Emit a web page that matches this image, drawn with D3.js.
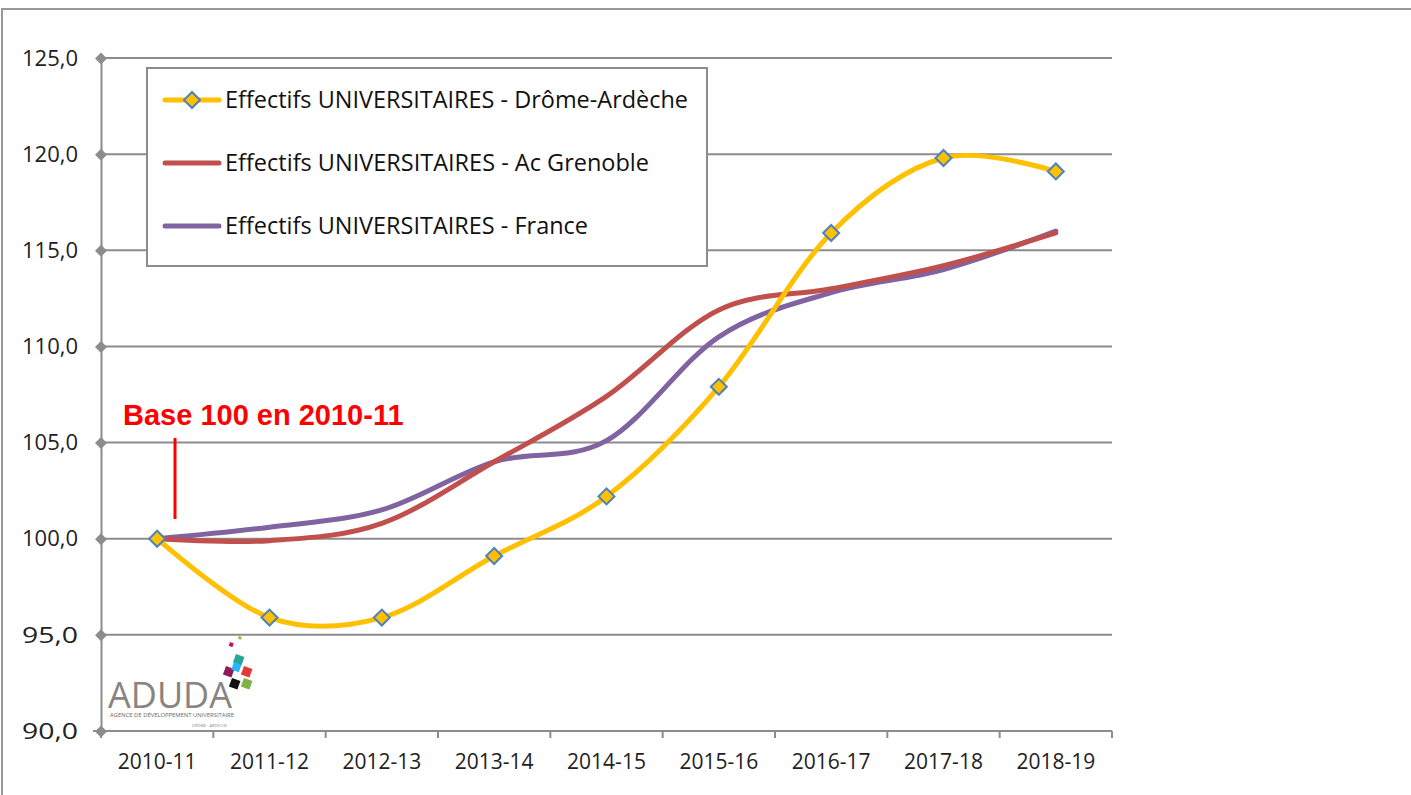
<!DOCTYPE html>
<html>
<head>
<meta charset="utf-8">
<script src="https://cdn.jsdelivr.net/npm/d3@7"></script>
<style>
  body { margin: 0; background: #fff; }
  svg { display: block; }
  text { font-family: "Open Sans", sans-serif; }
</style>
</head>
<body>
<svg width="1411" height="795"></svg>
<script>
var years = ["2010-11", "2011-12", "2012-13", "2013-14", "2014-15", "2015-16", "2016-17", "2017-18", "2018-19"];
var dromeArdeche = [100.0, 95.9, 95.9, 99.1, 102.2, 107.9, 115.9, 119.8, 119.1];
var acGrenoble = [100.0, 99.9, 100.8, 104.0, 107.4, 111.9, 113.0, 114.2, 115.9];
var france = [100.0, 100.6, 101.5, 104.0, 105.1, 110.5, 112.8, 114.0, 116.0];
var yTicks = [90, 95, 100, 105, 110, 115, 120, 125];

var series = [
  { name: "Effectifs UNIVERSITAIRES - Drôme-Ardèche", values: dromeArdeche, color: "#FFC000", marker: true, w: 463 },
  { name: "Effectifs UNIVERSITAIRES - Ac Grenoble", values: acGrenoble, color: "#C0504D", marker: false, w: 424 },
  { name: "Effectifs UNIVERSITAIRES - France", values: france, color: "#8064A2", marker: false, w: 363 }
];

var svg = d3.select("svg"),
    plotLeft = 101, plotRight = 1112, plotTop = 58, plotBottom = 731;

// outer frame
svg.append("rect").attr("x", 2).attr("y", 9).attr("width", 1420).attr("height", 800)
  .attr("fill", "none").attr("stroke", "#999").attr("stroke-width", 2);

var x = d3.scaleBand().domain(years).range([plotLeft, plotRight]);
var y = d3.scaleLinear().domain([90, 125]).range([plotBottom, plotTop]);

var grid = svg.append("g");
grid.selectAll("line").data(yTicks.slice(1)).enter().append("line")
  .attr("x1", plotLeft).attr("x2", plotRight)
  .attr("y1", d => y(d)).attr("y2", d => y(d))
  .attr("stroke", "#8c8c8c").attr("stroke-width", 2);

// y axis
var yAxis = svg.append("g").attr("transform", "translate(" + plotLeft + ",0)")
  .call(d3.axisLeft(y).tickValues(yTicks).tickSize(0).tickPadding(23)
    .tickFormat(d => d3.format(".1f")(d).replace(".", ",")));
yAxis.select(".domain").attr("stroke", "#8c8c8c").attr("stroke-width", 2);
yAxis.selectAll("text").style("font-size", "22px").style("fill", "#222").attr("dy", "0.33em")
  .attr("textLength", 56).attr("lengthAdjust", "spacingAndGlyphs");
yAxis.selectAll(".tick").append("path")
  .attr("d", "M-6,0L0,-6L6,0L0,6Z").attr("fill", "#8c8c8c");

// x axis
var xAxis = svg.append("g").attr("transform", "translate(0," + plotBottom + ")")
  .call(d3.axisBottom(x).tickSize(0).tickPadding(23));
xAxis.select(".domain").remove();
xAxis.selectAll("text").style("font-size", "21px").style("fill", "#222");
svg.append("line").attr("x1", plotLeft - 8).attr("x2", plotRight)
  .attr("y1", plotBottom).attr("y2", plotBottom).attr("stroke", "#8c8c8c").attr("stroke-width", 2);
svg.append("g").selectAll("line").data(years.concat(["end"])).enter().append("line")
  .attr("x1", (d, i) => plotLeft + i * x.bandwidth()).attr("x2", (d, i) => plotLeft + i * x.bandwidth())
  .attr("y1", plotBottom).attr("y2", plotBottom + 7)
  .attr("stroke", "#8c8c8c").attr("stroke-width", 2);

// logo
var logo = svg.append("g").attr("transform", "translate(108,640)");
var sq = [[122, 2, "#c2185b", 4], [131, -4, "#8bc34a", 3], [128, 14, "#26a69a", 9], [118, 26, "#8e1e5a", 9],
          [136, 26, "#e53935", 9], [124, 38, "#111", 9], [136, 38, "#7cb342", 9], [126, 22, "#29b6f6", 8]];
logo.selectAll("rect").data(sq).enter().append("rect")
  .attr("x", d => d[0]).attr("y", d => d[1]).attr("width", d => d[3]).attr("height", d => d[3])
  .attr("fill", d => d[2]).attr("transform", d => "rotate(20," + d[0] + "," + d[1] + ")");
logo.append("text").attr("x", 0).attr("y", 68).text("ADUDA")
  .style("font-size", "36px").style("fill", "#8a8480")
  .attr("textLength", 124).attr("lengthAdjust", "spacingAndGlyphs");
logo.append("text").attr("x", 2).attr("y", 77).text("AGENCE DE DÉVELOPPEMENT UNIVERSITAIRE")
  .style("font-size", "6px").style("fill", "#666")
  .attr("textLength", 124).attr("lengthAdjust", "spacingAndGlyphs");
logo.append("text").attr("x", 84).attr("y", 87).text("DRÔME · ARDÈCHE")
  .style("font-size", "4px").style("fill", "#888");

// series
var line = d3.line()
  .x((d, i) => x(years[i]) + x.bandwidth() / 2)
  .y(d => y(d))
  .curve(d3.curveCardinal.tension(0));

var lines = svg.append("g");
lines.selectAll("path").data(series.slice().reverse()).enter().append("path")
  .attr("d", d => line(d.values))
  .attr("fill", "none").attr("stroke", d => d.color)
  .attr("stroke-width", 5).attr("stroke-linecap", "round");

var diamond = "M-8,0L0,-8L8,0L0,8Z";
svg.append("g").selectAll("path").data(dromeArdeche).enter().append("path")
  .attr("d", diamond)
  .attr("transform", (d, i) => "translate(" + (x(years[i]) + x.bandwidth() / 2) + "," + y(d) + ")")
  .attr("fill", "#FFC000").attr("stroke", "#4F81BD").attr("stroke-width", 2);

// annotation
svg.append("text").attr("x", 123).attr("y", 425).text("Base 100 en 2010-11")
  .style("font-family", "'Liberation Sans', Arial, sans-serif")
  .style("font-size", "29px").style("font-weight", "bold").style("fill", "#ff0000");
svg.append("line").attr("x1", 175).attr("x2", 175).attr("y1", 438).attr("y2", 519)
  .attr("stroke", "#ff0000").attr("stroke-width", 3);

// legend
var legend = svg.append("g");
legend.append("rect").attr("x", 147).attr("y", 68).attr("width", 560).attr("height", 198)
  .attr("fill", "#fff").attr("stroke", "#8c8c8c").attr("stroke-width", 2);
var item = legend.selectAll(".item").data(series).enter().append("g")
  .attr("class", "item")
  .attr("transform", (d, i) => "translate(0," + (100 + i * 63) + ")");
item.append("line").attr("x1", 165).attr("x2", 219)
  .attr("stroke", d => d.color).attr("stroke-width", 5).attr("stroke-linecap", "round");
item.filter(d => d.marker).append("path").attr("d", diamond)
  .attr("transform", "translate(192,0)")
  .attr("fill", "#FFC000").attr("stroke", "#4F81BD").attr("stroke-width", 2);
item.append("text").attr("x", 225).attr("dy", "0.35em").text(d => d.name)
  .style("font-size", "23px").style("fill", "#111")
  .attr("textLength", d => d.w).attr("lengthAdjust", "spacingAndGlyphs");
</script>
</body>
</html>
